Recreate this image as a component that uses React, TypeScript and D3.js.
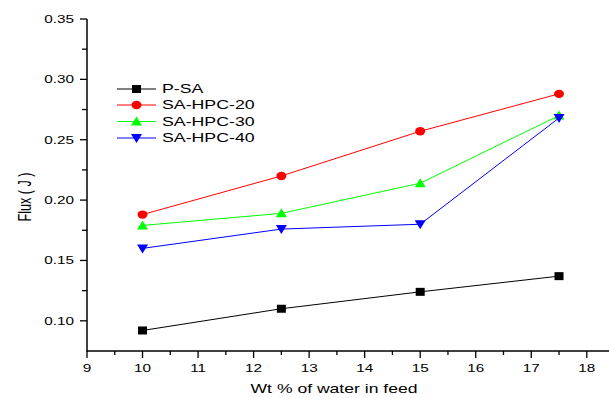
import React from "react";
import * as d3 from "d3";

const xValues = [10, 12.5, 15, 17.5];
const seriesNames = ["P-SA", "SA-HPC-20", "SA-HPC-30", "SA-HPC-40"];
const pSA = [0.092, 0.11, 0.124, 0.137];
const hpc20 = [0.188, 0.22, 0.257, 0.288];
const hpc30 = [0.179, 0.189, 0.214, 0.27];
const hpc40 = [0.16, 0.176, 0.18, 0.268];
const seriesColors = ["#000000", "#ff0000", "#00ff00", "#0000ff"];
const seriesMarkers = ["square", "circle", "triUp", "triDown"];
const xTicks = [9, 10, 11, 12, 13, 14, 15, 16, 17, 18];
const yTicks = [0.1, 0.15, 0.2, 0.25, 0.3, 0.35];
const xTitle = "Wt % of water in feed";
const yTitle = "Flux ( J )";

const W = 609;
const H = 398;
const SX = 1.43;
const FONT = "'Liberation Sans', Arial, sans-serif";

function Marker({ type, x, y, color }: { type: string; x: number; y: number; color: string }) {
  if (type === "square") return <rect x={x - 4.5} y={y - 4} width={9} height={8} fill={color} />;
  if (type === "circle") return <ellipse cx={x} cy={y} rx={5} ry={4.2} fill={color} />;
  if (type === "triUp")
    return <path d={`M${x - 5.5},${y + 4} L${x + 5.5},${y + 4} L${x},${y - 5} Z`} fill={color} />;
  return <path d={`M${x - 5.5},${y - 4} L${x + 5.5},${y - 4} L${x},${y + 5} Z`} fill={color} />;
}

export default function App() {
  const x = d3.scaleLinear().domain([9, 18.4]).range([87, 609]);
  const y = d3.scaleLinear().domain([0.075, 0.35]).range([351, 19]);
  const data = [pSA, hpc20, hpc30, hpc40];
  const line = d3
    .line<number>()
    .x((_, i) => x(xValues[i]))
    .y((d) => y(d));
  const xMinor = d3.range(9.5, 18.4, 1);
  const yMinor = d3.range(0.125, 0.35, 0.05);
  const legendY = [89, 105, 121.5, 138];

  return (
    <svg
      width={W}
      height={H}
      style={{ position: "absolute", left: 0, top: 0, background: "#fff" }}
      fontFamily={FONT}
    >
      <rect width={W} height={H} fill="#fff" />
      <line x1={x(9)} x2={W} y1={351} y2={351} stroke="#000" strokeWidth={1.5} />
      <line x1={87} x2={87} y1={y(0.35)} y2={351.75} stroke="#000" strokeWidth={1.5} />
      {xTicks.map((t) => (
        <g key={"xt" + t}>
          <line x1={x(t)} x2={x(t)} y1={351} y2={358} stroke="#000" strokeWidth={1.3} />
          <text
            transform={`translate(${x(t)},372) scale(${SX},1)`}
            textAnchor="middle"
            fontSize={10.7}
          >
            {t}
          </text>
        </g>
      ))}
      {xMinor.map((t) => (
        <line key={"xm" + t} x1={x(t)} x2={x(t)} y1={351} y2={355} stroke="#000" strokeWidth={1.3} />
      ))}
      {yTicks.map((t) => (
        <g key={"yt" + t}>
          <line x1={80} x2={87} y1={y(t)} y2={y(t)} stroke="#000" strokeWidth={1.3} />
          <text
            transform={`translate(74,${y(t)}) scale(${SX},1)`}
            textAnchor="end"
            dy="0.36em"
            fontSize={10.7}
          >
            {t.toFixed(2)}
          </text>
        </g>
      ))}
      {yMinor.map((t) => (
        <line key={"ym" + t} x1={82} x2={87} y1={y(t)} y2={y(t)} stroke="#000" strokeWidth={1.3} />
      ))}
      <text
        transform={`translate(334,393) scale(${SX},1)`}
        textAnchor="middle"
        fontSize={12.3}
      >
        {xTitle}
      </text>
      <text
        transform={`translate(31,197) scale(${SX},1) rotate(-90)`}
        textAnchor="middle"
        fontSize={12.6}
      >
        {yTitle}
      </text>
      {data.map((vals, si) => (
        <g key={"s" + si}>
          <path d={line(vals) || ""} fill="none" stroke={seriesColors[si]} strokeWidth={1} />
          {vals.map((v, i) => (
            <Marker key={i} type={seriesMarkers[si]} x={x(xValues[i])} y={y(v)} color={seriesColors[si]} />
          ))}
        </g>
      ))}
      {seriesNames.map((n, i) => (
        <g key={"l" + i}>
          <line x1={117} x2={156} y1={legendY[i]} y2={legendY[i]} stroke={seriesColors[i]} strokeWidth={1} />
          <Marker type={seriesMarkers[i]} x={136.5} y={legendY[i]} color={seriesColors[i]} />
          <text
            transform={`translate(162,${legendY[i]}) scale(${SX},1)`}
            dy="0.36em"
            fontSize={12.4}
          >
            {n}
          </text>
        </g>
      ))}
    </svg>
  );
}
